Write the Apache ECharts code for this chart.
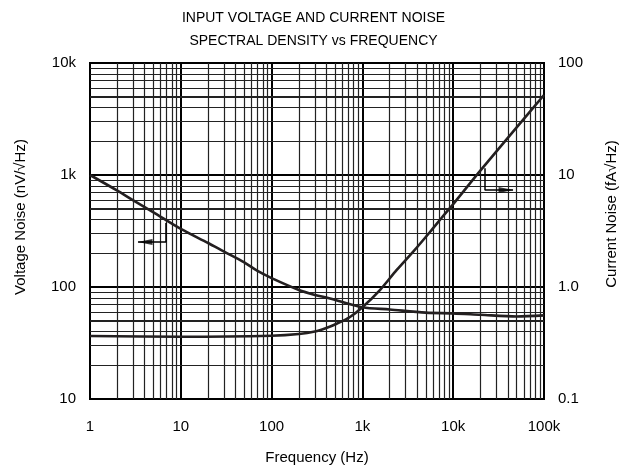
<!DOCTYPE html>
<html>
<head>
<meta charset="utf-8">
<script src="https://cdn.jsdelivr.net/npm/echarts@6/dist/echarts.min.js"></script>
<style>
html,body{margin:0;padding:0;background:#fff;}
#chart{width:627px;height:470px;}
</style>
</head>
<body>
<div id="chart"></div>
<script>
const titleText = 'INPUT VOLTAGE AND CURRENT NOISE\nSPECTRAL DENSITY vs FREQUENCY';
const xTickLabels = {1:'1',10:'10',100:'100',1000:'1k',10000:'10k',100000:'100k'};
const leftTickLabels = {10:'10',100:'100',1000:'1k',10000:'10k'};
const rightTickLabels = {0.1:'0.1',1:'1.0',10:'10',100:'100'};

const freqV = [1, 2, 3, 5, 10, 20, 30, 50, 70, 100, 200, 300, 440, 1000, 2000, 5000, 10000, 20000, 50000, 100000];
const voltNoise = [1000, 725, 594, 464, 330, 247, 207, 166, 139, 120, 94, 85, 79, 66, 63, 59, 58.2, 56.5, 54.5, 55.8];

const freqI = [1, 10, 100, 200, 300, 400, 520, 730, 1000, 1560, 2390, 3630, 5550, 7470, 10000, 20000, 50000, 100000];
const curNoise = [0.365, 0.36, 0.367, 0.38, 0.40, 0.43, 0.47, 0.54, 0.66, 0.94, 1.42, 2.07, 3.1, 4.15, 5.5, 11, 26.6, 51.8];

// annotation arrows (data coordinates)
const arrowV = [[6.87, 373], [6.87, 252], [3.38, 252]];
const arrowI = [[22400, 11.5], [22400, 7.35], [45600, 7.35]];

// minor grid positions
const minorMult = [2, 3, 4, 5, 6, 7, 8, 9];
const xDecades = [1, 10, 100, 1000, 10000];
const yDecades = [10, 100, 1000];

const xMinor = [];
xDecades.forEach(d => minorMult.forEach(m => xMinor.push(d * m)));
const yMinor = [];
yDecades.forEach(d => minorMult.forEach(m => yMinor.push(d * m)));

const black = '#000';
const curveColor = '#231f20';
const font = '"Liberation Sans", Arial, Helvetica, sans-serif';

const minorLines = [];
xMinor.forEach(v => minorLines.push({xAxis: v, lineStyle: {color: '#222', width: 1.2, type: 'solid'}}));
yMinor.forEach(v => {
  const five = (v / Math.pow(10, Math.floor(Math.log10(v) + 1e-9))) === 5;
  minorLines.push({yAxis: v, lineStyle: {color: '#222', width: five ? 2 : 1.2, type: 'solid'}});
});

const chart = echarts.init(document.getElementById('chart'), null, {renderer: 'canvas'});
chart.setOption({
  animation: false,
  backgroundColor: '#fff',
  title: {
    text: titleText,
    left: 'center',
    top: 2,
    textStyle: {fontFamily: font, fontSize: 14, fontWeight: 'normal', color: black, lineHeight: 23}
  },
  grid: {left: 90, right: 83, top: 63, bottom: 71, show: true, borderColor: black, borderWidth: 2, backgroundColor: 'transparent'},
  xAxis: {
    type: 'log', logBase: 10, min: 1, max: 100000,
    name: 'Frequency (Hz)', nameLocation: 'middle', nameGap: 51,
    nameTextStyle: {fontFamily: font, fontSize: 15, color: black},
    axisLine: {show: true, lineStyle: {color: black, width: 2}},
    axisTick: {show: false},
    axisLabel: {fontFamily: font, fontSize: 15, color: black, margin: 20, formatter: v => xTickLabels[Math.round(v)] || ''},
    splitLine: {show: true, lineStyle: {color: black, width: 2}},
    minorTick: {show: false}, minorSplitLine: {show: false}
  },
  yAxis: [{
    type: 'log', logBase: 10, min: 10, max: 10000, position: 'left',
    name: 'Voltage Noise (nV/√Hz)', nameLocation: 'middle', nameGap: 62, nameRotate: 90,
    nameTextStyle: {fontFamily: font, fontSize: 15, color: black, padding: [0, 0, 0, 28]},
    axisLine: {show: true, lineStyle: {color: black, width: 2}},
    axisTick: {show: false},
    axisLabel: {fontFamily: font, fontSize: 15, color: black, margin: 14, formatter: v => leftTickLabels[Math.round(v)] || ''},
    splitLine: {show: true, lineStyle: {color: black, width: 2}}
  }, {
    type: 'log', logBase: 10, min: 0.1, max: 100, position: 'right',
    name: 'Current Noise (fA√Hz)', nameLocation: 'middle', nameGap: 60, nameRotate: 90,
    nameTextStyle: {fontFamily: font, fontSize: 15, color: black, padding: [0, 0, 0, 34]},
    axisLine: {show: true, lineStyle: {color: black, width: 2}},
    axisTick: {show: false},
    axisLabel: {fontFamily: font, fontSize: 15, color: black, margin: 14,
      formatter: v => { const k = Math.round(v * 10) / 10; return rightTickLabels[k] || ''; }},
    splitLine: {show: false}
  }],
  series: [{
    name: 'grid', type: 'line', data: [], xAxisIndex: 0, yAxisIndex: 0, silent: true, z: 1,
    markLine: {silent: true, symbol: ['none', 'none'], label: {show: false}, animation: false, data: minorLines}
  }, {
    name: 'Voltage Noise', type: 'line', xAxisIndex: 0, yAxisIndex: 0, z: 5,
    smooth: 0.3, symbol: 'none',
    lineStyle: {color: curveColor, width: 2.6},
    data: freqV.map((f, i) => [f, voltNoise[i]])
  }, {
    name: 'Current Noise', type: 'line', xAxisIndex: 0, yAxisIndex: 1, z: 5,
    smooth: 0.3, symbol: 'none',
    lineStyle: {color: curveColor, width: 2.6},
    data: freqI.map((f, i) => [f, curNoise[i]])
  }, {
    name: 'arrowV', type: 'line', xAxisIndex: 0, yAxisIndex: 0, z: 6, symbol: 'none',
    lineStyle: {color: black, width: 1.5}, data: arrowV
  }, {
    name: 'arrowI', type: 'line', xAxisIndex: 0, yAxisIndex: 1, z: 6, symbol: 'none',
    lineStyle: {color: black, width: 1.5}, data: arrowI
  }, {
    name: 'arrowHeadV', type: 'scatter', xAxisIndex: 0, yAxisIndex: 0, z: 7,
    symbol: 'path://M0,5 L14,0 L14,10 Z', symbolSize: [15, 6], symbolOffset: [7, 0],
    itemStyle: {color: black}, data: [arrowV[2]]
  }, {
    name: 'arrowHeadI', type: 'scatter', xAxisIndex: 0, yAxisIndex: 1, z: 7,
    symbol: 'path://M14,5 L0,0 L0,10 Z', symbolSize: [15, 6], symbolOffset: [-7, 0],
    itemStyle: {color: black}, data: [arrowI[2]]
  }]
});
</script>
</body>
</html>
